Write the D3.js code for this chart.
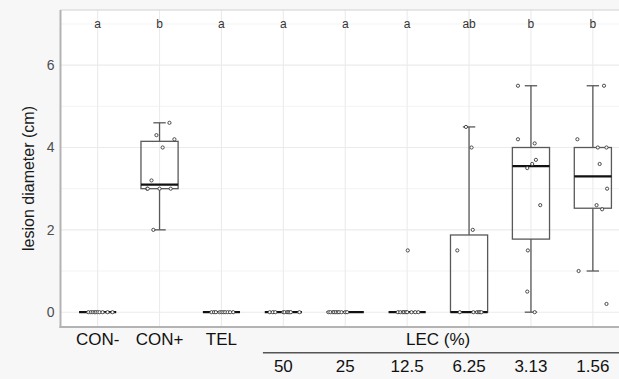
<!DOCTYPE html>
<html>
<head>
<meta charset="utf-8">
<script src="https://cdn.jsdelivr.net/npm/d3@7"></script>
<style>
  html, body { margin: 0; padding: 0; background: #f7f7f7; }
  svg { display: block; font-family: "Liberation Sans", Arial, sans-serif; }
</style>
</head>
<body>
<svg id="chart" width="619" height="379"></svg>
<script>
// Treatment groups, in plotting order
const categories = ["CON-", "CON+", "TEL", "50", "25", "12.5", "6.25", "3.13", "1.56"];
const controlLabels = ["CON-", "CON+", "TEL"];
const lecTitle = "LEC (%)";
const lecDoses = ["50", "25", "12.5", "6.25", "3.13", "1.56"];

// Lesion diameters (cm) per group
const conNeg  = [0, 0, 0, 0, 0, 0, 0, 0, 0, 0];
const conPos  = [4.6, 4.3, 4.2, 4.0, 3.2, 3.0, 3.0, 3.0, 3.0, 2.0];
const tel     = [0, 0, 0, 0, 0, 0, 0, 0, 0, 0];
const lec50   = [0, 0, 0, 0, 0, 0, 0, 0, 0, 0];
const lec25   = [0, 0, 0, 0, 0, 0, 0, 0, 0, 0];
const lec12_5 = [1.5, 0, 0, 0, 0, 0, 0, 0, 0, 0];
const lec6_25 = [4.5, 4.0, 2.0, 1.5, 0, 0, 0, 0, 0, 0];
const lec3_13 = [5.5, 4.2, 4.1, 3.7, 3.6, 3.5, 2.6, 1.5, 0.5, 0];
const lec1_56 = [5.5, 4.2, 4.0, 4.0, 3.6, 3.0, 2.6, 2.5, 1.0, 0.2];
const seriesValues = [conNeg, conPos, tel, lec50, lec25, lec12_5, lec6_25, lec3_13, lec1_56];

// Horizontal jitter of each observation, as a fraction of the category step
const jitterConNeg  = [-.15, -.11, -.08, -.05, -.03, 0, .03, .08, .16, .24];
const jitterConPos  = [.16, -.05, .24, .05, -.13, -.2, -.19, 0, .18, -.1];
const jitterTel     = [-.16, -.12, -.09, -.03, 0, .03, .06, .1, .14, .19];
const jitterLec50   = [-.22, -.17, -.13, 0, .02, .06, .08, .1, .12, .26];
const jitterLec25   = [-.27, -.24, -.2, -.18, -.15, -.12, -.1, -.06, 0, .03];
const jitterLec12_5 = [.01, -.15, -.11, -.07, -.05, -.02, 0, .07, .13, .18];
const jitterLec6_25 = [-.05, .04, .06, -.19, -.15, .07, .13, .16, .18, .2];
const jitterLec3_13 = [-.21, -.21, .06, .08, .02, -.06, .15, -.05, -.06, .06];
const jitterLec1_56 = [.18, -.25, .08, .22, .11, .23, .06, .15, -.23, .22];
const jitters = [jitterConNeg, jitterConPos, jitterTel, jitterLec50, jitterLec25,
                 jitterLec12_5, jitterLec6_25, jitterLec3_13, jitterLec1_56];

// Significance letters shown above each group
const letters = ["a", "b", "a", "a", "a", "a", "ab", "b", "b"];
const letterLevel = 7;

const yTicks = [0, 2, 4, 6];
const yMinor = [1, 3, 5, 7];

const svg = d3.select("#chart");
const panel = { left: 60.5, right: 630, top: 10, bottom: 327 };

const x = d3.scalePoint().domain(categories).range([panel.left, panel.right]).padding(0.6);
const step = x.step();
const y = d3.scaleLinear().domain([-0.36, 7.34]).range([panel.bottom, panel.top]);

// Panel background
svg.append("rect")
  .attr("x", panel.left).attr("y", panel.top)
  .attr("width", panel.right - panel.left).attr("height", panel.bottom - panel.top)
  .attr("fill", "#ffffff");

// Grid
const grid = svg.append("g");
grid.selectAll("line.minor").data(yMinor).join("line")
  .attr("x1", panel.left).attr("x2", panel.right)
  .attr("y1", d => y(d)).attr("y2", d => y(d))
  .attr("stroke", "#f3f3f3").attr("stroke-width", 1);
grid.selectAll("line.major").data(yTicks).join("line")
  .attr("x1", panel.left).attr("x2", panel.right)
  .attr("y1", d => y(d)).attr("y2", d => y(d))
  .attr("stroke", "#ebebeb").attr("stroke-width", 1.1);
grid.selectAll("line.vert").data(categories).join("line")
  .attr("x1", d => x(d)).attr("x2", d => x(d))
  .attr("y1", panel.top).attr("y2", panel.bottom)
  .attr("stroke", "#ebebeb").attr("stroke-width", 1.1);

// Box statistics (Tukey, type-7 quantiles)
function boxStats(vals) {
  const s = vals.slice().sort(d3.ascending);
  const q1 = d3.quantileSorted(s, 0.25);
  const med = d3.quantileSorted(s, 0.5);
  const q3 = d3.quantileSorted(s, 0.75);
  const iqr = q3 - q1;
  const lo = d3.min(s.filter(v => v >= q1 - 1.5 * iqr));
  const hi = d3.max(s.filter(v => v <= q3 + 1.5 * iqr));
  return { q1, med, q3, lo, hi };
}

const boxW = step * 0.6;
const capW = step * 0.2;
const boxColor = "#595959";

const groups = svg.append("g").selectAll("g").data(categories).join("g")
  .attr("transform", d => `translate(${x(d)},0)`);

groups.each(function(cat, i) {
  const g = d3.select(this);
  const st = boxStats(seriesValues[i]);
  // whiskers
  g.append("line").attr("x1", 0).attr("x2", 0)
    .attr("y1", y(st.q3)).attr("y2", y(st.hi))
    .attr("stroke", boxColor).attr("stroke-width", 1.3);
  g.append("line").attr("x1", 0).attr("x2", 0)
    .attr("y1", y(st.q1)).attr("y2", y(st.lo))
    .attr("stroke", boxColor).attr("stroke-width", 1.3);
  // caps
  [st.hi, st.lo].forEach(v => {
    g.append("line").attr("x1", -capW / 2).attr("x2", capW / 2)
      .attr("y1", y(v)).attr("y2", y(v))
      .attr("stroke", boxColor).attr("stroke-width", 1.3);
  });
  // box
  g.append("rect")
    .attr("x", -boxW / 2).attr("width", boxW)
    .attr("y", y(st.q3)).attr("height", Math.max(0, y(st.q1) - y(st.q3)))
    .attr("fill", "none").attr("stroke", boxColor).attr("stroke-width", 1.3);
  // median
  g.append("line").attr("x1", -boxW / 2).attr("x2", boxW / 2)
    .attr("y1", y(st.med)).attr("y2", y(st.med))
    .attr("stroke", "#111").attr("stroke-width", 2.2);
  // jittered observations
  g.selectAll("circle").data(seriesValues[i].map((v, k) => ({ v, j: jitters[i][k] })))
    .join("circle")
    .attr("cx", d => d.j * step)
    .attr("cy", d => y(d.v))
    .attr("r", 1.6)
    .attr("fill", "#ffffff")
    .attr("stroke", "#3a3a3a")
    .attr("stroke-width", 0.9);
  // letter
  g.append("text")
    .attr("x", 0).attr("y", y(letterLevel))
    .attr("dy", "0.35em")
    .attr("text-anchor", "middle")
    .attr("font-size", 12)
    .attr("fill", "#333")
    .text(letters[i]);
});

// Panel border: light top, heavier left and bottom
svg.append("line")
  .attr("x1", panel.left).attr("x2", panel.right)
  .attr("y1", panel.top).attr("y2", panel.top)
  .attr("stroke", "#d2d2d2").attr("stroke-width", 1.2);
svg.append("line")
  .attr("x1", panel.left).attr("x2", panel.left)
  .attr("y1", panel.top).attr("y2", panel.bottom + 1)
  .attr("stroke", "#b3b3b3").attr("stroke-width", 2);
svg.append("line")
  .attr("x1", panel.left - 1).attr("x2", panel.right)
  .attr("y1", panel.bottom).attr("y2", panel.bottom)
  .attr("stroke", "#b3b3b3").attr("stroke-width", 2);

// Y axis labels
const yAxis = d3.axisLeft(y).tickValues(yTicks).tickSize(0).tickPadding(6).tickFormat(d3.format("d"));
const ya = svg.append("g").attr("transform", `translate(${panel.left},0)`).call(yAxis);
ya.select(".domain").remove();
ya.selectAll("text").attr("font-size", 14).attr("fill", "#4d4d4d")
  .attr("font-family", "Liberation Sans, Arial, sans-serif");

svg.append("text")
  .attr("transform", `translate(28,${(panel.top + panel.bottom) / 2 + 10}) rotate(-90)`)
  .attr("text-anchor", "middle")
  .attr("dy", "0.35em")
  .attr("font-size", 16)
  .attr("fill", "#1a1a1a")
  .text("lesion diameter (cm)");

// Category table below the panel
const table = svg.append("g").attr("font-size", 17).attr("fill", "#111").attr("text-anchor", "middle");
table.selectAll("text.ctrl").data(controlLabels).join("text")
  .attr("x", d => x(d)).attr("y", 345)
  .text(d => d);
table.append("text")
  .attr("x", (x(lecDoses[0]) + x(lecDoses[lecDoses.length - 1])) / 2)
  .attr("y", 345)
  .text(lecTitle);
svg.append("line")
  .attr("x1", x(lecDoses[0]) - step * 0.33).attr("x2", 640)
  .attr("y1", 352.7).attr("y2", 352.7)
  .attr("stroke", "#555").attr("stroke-width", 1.4);
table.selectAll("text.dose").data(lecDoses).join("text")
  .attr("x", d => x(d)).attr("y", 371.5)
  .text(d => d);
</script>
</body>
</html>
